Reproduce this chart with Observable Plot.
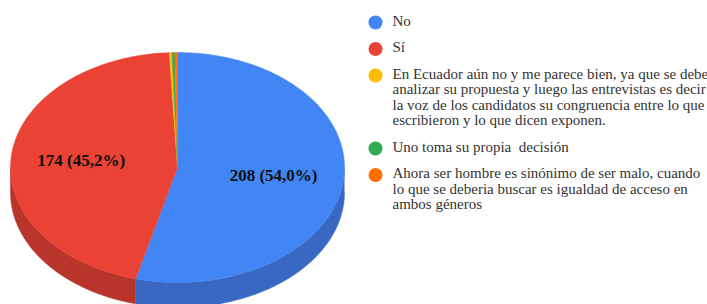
<!DOCTYPE html>
<html>
<head>
<meta charset="utf-8">
<script src="https://cdn.jsdelivr.net/npm/d3@7"></script>
<script src="https://cdn.jsdelivr.net/npm/@observablehq/plot@0.6"></script>
<style>
  html, body { margin: 0; padding: 0; background: #fff; }
</style>
</head>
<body>
<div id="chart"></div>
<script>
// ---- data ----
const categories = [
  "No",
  "Sí",
  "En Ecuador aún no y me parece bien, ya que se debe\nanalizar su propuesta y luego las entrevistas es decir\nla voz de los candidatos su congruencia entre lo que\nescribieron y lo que dicen exponen.",
  "Uno toma su propia  decisión",
  "Ahora ser hombre es sinónimo de ser malo, cuando\nlo que se deberia buscar es igualdad de acceso en\nambos géneros"
];
const values = [208, 174, 1, 1, 1];
const sliceLabels = ["208 (54,0%)", "174 (45,2%)", "", "", ""];
const topColors = ["#4285f4", "#ea4335", "#fbbc04", "#34a853", "#ff6d01"];
const sideColors = ["#3868c2", "#b9352b", "#c99603", "#2a8642", "#cc5701"];

// ---- geometry ----
const W = 707, H = 304;
const cx = 177, cy = 167, rx = 167, ry = 115, depth = 25;
const rad = Math.PI / 180;
const px = a => cx + rx * Math.sin(a);
const py = a => cy - ry * Math.cos(a);

const arcs = d3.pie().sort(null).startAngle(0).endAngle(2 * Math.PI)(values);

const topPts = [];
const sidePts = [];
arcs.forEach((a, i) => {
  const n = Math.max(2, Math.ceil((a.endAngle - a.startAngle) / rad));
  topPts.push({k: "t" + i, x: cx, y: cy, c: topColors[i]});
  for (let j = 0; j <= n; j++) {
    const t = a.startAngle + (a.endAngle - a.startAngle) * j / n;
    topPts.push({k: "t" + i, x: px(t), y: py(t), c: topColors[i]});
  }
  const s0 = Math.max(a.startAngle, Math.PI / 2), s1 = Math.min(a.endAngle, 3 * Math.PI / 2);
  if (s1 > s0) {
    const m = Math.max(2, Math.ceil((s1 - s0) / rad));
    const up = [], down = [];
    for (let j = 0; j <= m; j++) {
      const t = s0 + (s1 - s0) * j / m;
      up.push({k: "s" + i, x: px(t), y: py(t), c: sideColors[i]});
      down.push({k: "s" + i, x: px(t), y: py(t) + depth, c: sideColors[i]});
    }
    sidePts.push(...up, ...down.reverse());
  }
});

const labelData = arcs.map((a, i) => {
  const mid = (a.startAngle + a.endAngle) / 2;
  return {x: cx + 0.58 * rx * Math.sin(mid), y: cy - 0.58 * ry * Math.cos(mid), t: sliceLabels[i]};
}).filter(d => d.t);

// legend layout
const fs = 15, lineH = 15.5, gap = 26.5;
let ly = 22;
const legend = categories.map((c, i) => {
  const lines = c.split("\n").length;
  const d = {y: ly, text: c, color: topColors[i]};
  ly += (lines - 1) * lineH + gap;
  return d;
});

const chart = Plot.plot({
  width: W, height: H,
  margin: 0,
  style: {fontFamily: "Liberation Serif", background: "#fff"},
  x: {domain: [0, W], range: [0, W], axis: null},
  y: {domain: [0, H], range: [0, H], axis: null},
  marks: [
    Plot.line(sidePts, {x: "x", y: "y", z: "k", fill: "c", stroke: "c", strokeWidth: 0.5}),
    Plot.line(topPts, {x: "x", y: "y", z: "k", fill: "c", stroke: "c", strokeWidth: 0.5}),
    Plot.text(labelData, {x: "x", y: "y", text: "t", fontSize: 17, fontWeight: "bold",
      fontFamily: "Liberation Serif", fill: "#111"}),
    Plot.dot(legend, {x: 375, y: "y", r: 7, fill: "color", stroke: null}),
    Plot.text(legend, {x: 392, y: d => d.y - lineH / 2, text: "text", textAnchor: "start", lineAnchor: "top",
      lineHeight: lineH / fs, fontSize: fs, fontFamily: "Liberation Serif", fill: "#333"})
  ]
});
document.getElementById("chart").appendChild(chart);
</script>
</body>
</html>
